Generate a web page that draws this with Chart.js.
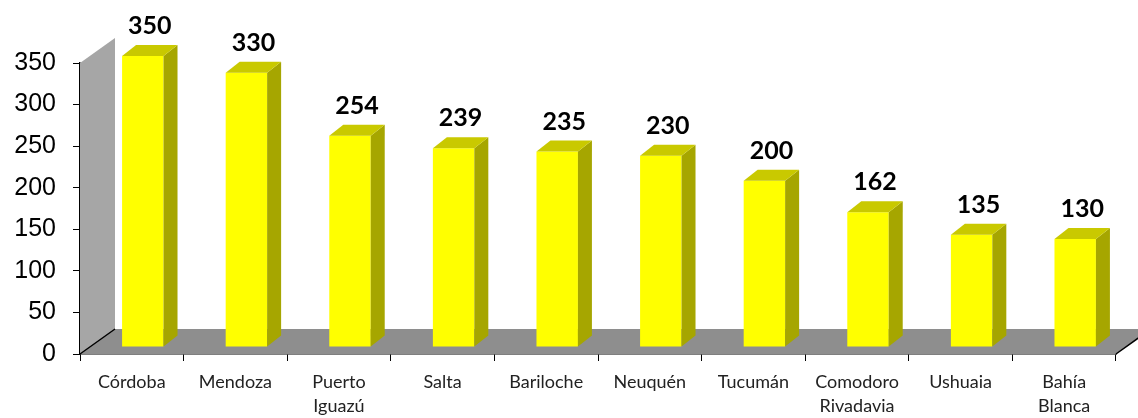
<!DOCTYPE html>
<html lang="es">
  <head>
    <meta charset="UTF-8" />
    <title>Ciudades</title>
    <script src="https://cdn.jsdelivr.net/npm/chart.js"></script>
    <style>
      body { margin: 0; background: #fff; }
      #wrap { width: 1138px; height: 418px; position: relative; }
    </style>
  </head>
  <body>
    <div id="wrap"><canvas id="chart"></canvas></div>
    <script>
      const ciudades = [
        ["Córdoba"], ["Mendoza"], ["Puerto", "Iguazú"], ["Salta"], ["Bariloche"],
        ["Neuquén"], ["Tucumán"], ["Comodoro", "Rivadavia"], ["Ushuaia"], ["Bahía", "Blanca"]
      ];
      const valores = [350, 330, 254, 239, 235, 230, 200, 162, 135, 130];
      const yMax = 350;
      const yPaso = 50;

      // desplazamiento de la cara frontal y profundidad 3D
      const frente = { dx: 11, dy: -7 };
      const prof = { dx: 14, dy: -11 };
      const pared = { dx: 35, dy: -25 };

      const efecto3d = {
        id: "efecto3d",
        beforeDatasetsDraw(chart) {
          const ctx = chart.ctx;
          const a = chart.chartArea;
          ctx.save();
          // pared izquierda
          ctx.fillStyle = "#a6a6a6";
          ctx.beginPath();
          ctx.moveTo(a.left, a.bottom);
          ctx.lineTo(a.left, a.top);
          ctx.lineTo(a.left + pared.dx, a.top + pared.dy);
          ctx.lineTo(a.left + pared.dx, a.bottom + pared.dy);
          ctx.closePath();
          ctx.fill();
          // piso
          ctx.fillStyle = "#8e8e8e";
          ctx.beginPath();
          ctx.moveTo(a.left, a.bottom);
          ctx.lineTo(a.right, a.bottom);
          ctx.lineTo(a.right + pared.dx, a.bottom + pared.dy);
          ctx.lineTo(a.left + pared.dx, a.bottom + pared.dy);
          ctx.closePath();
          ctx.fill();
          ctx.strokeStyle = "#000";
          ctx.lineWidth = 1.5;
          ctx.beginPath();
          ctx.moveTo(a.left + pared.dx, a.bottom + pared.dy);
          ctx.lineTo(a.left, a.bottom);
          ctx.moveTo(a.right, a.bottom);
          ctx.lineTo(a.right + pared.dx, a.bottom + pared.dy);
          ctx.stroke();
          ctx.restore();

          ctx.save();
          ctx.translate(frente.dx, frente.dy);
        },
        afterDatasetsDraw(chart) {
          const ctx = chart.ctx;
          ctx.restore();
          ctx.save();
          const meta = chart.getDatasetMeta(0);
          meta.data.forEach((bar, i) => {
            const x1 = bar.x - bar.width / 2 + frente.dx;
            const x2 = bar.x + bar.width / 2 + frente.dx;
            const top = bar.y + frente.dy;
            const bottom = bar.base + frente.dy;
            // lateral
            ctx.fillStyle = "#a6a600";
            ctx.beginPath();
            ctx.moveTo(x2, top);
            ctx.lineTo(x2 + prof.dx, top + prof.dy);
            ctx.lineTo(x2 + prof.dx, bottom + prof.dy);
            ctx.lineTo(x2, bottom);
            ctx.closePath();
            ctx.fill();
            // tapa
            ctx.fillStyle = "#c9c900";
            ctx.beginPath();
            ctx.moveTo(x1, top);
            ctx.lineTo(x1 + prof.dx, top + prof.dy);
            ctx.lineTo(x2 + prof.dx, top + prof.dy);
            ctx.lineTo(x2, top);
            ctx.closePath();
            ctx.fill();
            // etiqueta
            ctx.fillStyle = "#000";
            ctx.font = "bold 25px Lato, 'Open Sans', sans-serif";
            ctx.textAlign = "center";
            ctx.textBaseline = "alphabetic";
            ctx.fillText(String(valores[i]), (x1 + x2) / 2 + 7, top + prof.dy - 11);
          });
          ctx.restore();
        }
      };

      new Chart(document.getElementById("chart"), {
        type: "bar",
        data: {
          labels: ciudades,
          datasets: [
            {
              data: valores,
              backgroundColor: "#ffff00",
              borderWidth: 0,
              barPercentage: 1,
              categoryPercentage: 0.4,
              clip: false
            }
          ]
        },
        options: {
          responsive: true,
          maintainAspectRatio: false,
          animation: false,
          layout: { padding: { top: 63, right: 22, left: 0, bottom: 0 } },
          plugins: {
            legend: { display: false },
            tooltip: { enabled: false }
          },
          scales: {
            x: {
              grid: {
                offset: true,
                drawOnChartArea: false,
                color: "#000",
                tickLength: 7,
                lineWidth: 1
              },
              border: { color: "#000", width: 1.5 },
              ticks: {
                color: "#222",
                padding: 9,
                maxRotation: 0,
                autoSkip: false,
                font: { family: "Lato, 'Open Sans', sans-serif", size: 18, lineHeight: 1.35 }
              },
              afterFit(scale) { scale.height = 64; }
            },
            y: {
              min: 0,
              max: yMax,
              grid: {
                drawOnChartArea: false,
                color: "#000",
                tickLength: 7
              },
              border: { color: "#000", width: 1.5 },
              ticks: {
                stepSize: yPaso,
                color: "#000",
                padding: 17,
                font: { family: "Liberation Sans", size: 25 }
              },
              afterFit(scale) { scale.width = 80; }
            }
          }
        },
        plugins: [efecto3d]
      });
    </script>
  </body>
</html>
